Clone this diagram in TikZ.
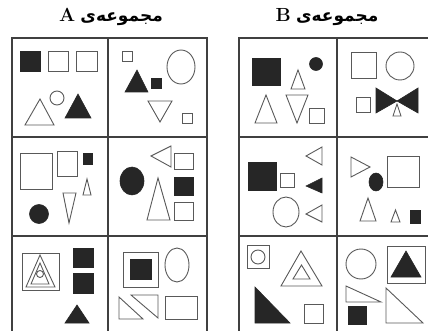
\documentclass[tikz,border=0pt]{standalone}
\usepackage{fontspec}
\newfontfamily\arabicfont[Script=Arabic]{DejaVu Sans Bold}
\TeXXeTstate=1
\newcommand{\setletter}[1]{{\fontsize{19}{21}\selectfont\bfseries #1}}
\begin{document}
\begin{tikzpicture}[x=1pt, y=-1pt, line join=miter,
    grid/.style={draw=black!75, line width=1.3pt},
    shp/.style={draw=black!65, line width=0.9pt},
    blk/.style={draw=black!85, fill=black!85, line width=0.6pt},
    title/.style={font=\fontsize{17}{19}\selectfont}]
  \useasboundingbox (0,0) rectangle (428,331);
  \clip (0,0) rectangle (428,331);
  % titles
  \node[title] (titleA) at (111,17) {\beginR{\arabicfont مجموعه‌ی} \setletter{A}\endR};
  \node[title] (titleB) at (327,17) {\beginR{\arabicfont مجموعه‌ی} \setletter{B}\endR};
  % grids
  \draw[grid] (12,38) rectangle (207,335);
  \draw[grid] (108,38) -- (108,335);
  \draw[grid] (12,137) -- (207,137) (12,236) -- (207,236);
  \draw[grid] (239,38) rectangle (436,335);
  \draw[grid] (337,38) -- (337,335);
  \draw[grid] (239,137) -- (436,137) (239,236) -- (436,236);

  % A, row 1, left
  \fill[blk] (20,51) rectangle (40,71);
  \draw[shp] (48,51) rectangle (68,71);
  \draw[shp] (76,51) rectangle (97,71);
  \draw[shp] (25,125) -- (40,99) -- (54,125) -- cycle;
  \draw[shp] (57,98) circle (7);
  \fill[blk] (65,118) -- (78,94) -- (91,118) -- cycle;
  % A, row 1, right
  \draw[shp] (122,51) rectangle (132,61);
  \draw[shp] (181,67) ellipse (14 and 17);
  \fill[blk] (125,92) -- (137,70) -- (148,92) -- cycle;
  \fill[blk] (151,78) rectangle (161,88);
  \draw[shp] (148,101) -- (172,101) -- (160,122) -- cycle;
  \draw[shp] (182,113) rectangle (192,123);

  % A, row 2, left
  \draw[shp] (20,153) rectangle (52,189);
  \draw[shp] (57,151) rectangle (77,176);
  \fill[blk] (83,153) rectangle (92,164);
  \draw[shp] (83,195) -- (87,179) -- (91,195) -- cycle;
  \draw[shp] (63,193) -- (76,193) -- (69,223) -- cycle;
  \fill[blk] (39,214) circle (9.5);
  % A, row 2, right
  \draw[shp] (151,156) -- (171,146) -- (171,167) -- cycle;
  \draw[shp] (174,153) rectangle (193,169);
  \fill[blk] (132,181) ellipse (12 and 14);
  \draw[shp] (147,220) -- (158,178) -- (170,220) -- cycle;
  \fill[blk] (174,177) rectangle (193,195);
  \draw[shp] (174,202) rectangle (193,220);

  % A, row 3, left
  \draw[shp] (22,253) rectangle (59,290);
  \draw[shp] (26,287) -- (40,255) -- (55,287) -- cycle;
  \draw[shp] (31,284) -- (40,263) -- (49,284) -- cycle;
  \draw[shp] (40,274) circle (3.5);
  \fill[blk] (73,248) rectangle (93,267);
  \fill[blk] (73,273) rectangle (93,293);
  \fill[blk] (65,323) -- (77,305) -- (89,323) -- cycle;
  % A, row 3, right
  \draw[shp] (123,252) rectangle (158,287);
  \fill[blk] (130,259) rectangle (151,279);
  \draw[shp] (177,265) ellipse (12 and 17);
  \draw[shp] (119,297) -- (119,319) -- (143,319) -- cycle;
  \draw[shp] (131,295) -- (158,295) -- (158,318) -- cycle;
  \draw[shp] (165,296) rectangle (197,319);

  % B, row 1, left
  \fill[blk] (252,58) rectangle (280,85);
  \draw[shp] (291,89) -- (298,70) -- (305,89) -- cycle;
  \fill[blk] (316,64) circle (6.5);
  \draw[shp] (255,123) -- (266,95) -- (277,123) -- cycle;
  \draw[shp] (286,95) -- (308,95) -- (297,123) -- cycle;
  \draw[shp] (309,108) rectangle (324,123);
  % B, row 1, right
  \draw[shp] (351,52) rectangle (376,78);
  \draw[shp] (400,66) circle (14);
  \draw[shp] (356,97) rectangle (370,112);
  \fill[blk] (376,88) -- (397,101) -- (376,113) -- cycle;
  \fill[blk] (418,88) -- (397,101) -- (418,113) -- cycle;
  \draw[shp, fill=white] (393,116) -- (397,104) -- (401,116) -- cycle;

  % B, row 2, left
  \draw[shp] (306,156) -- (322,147) -- (322,165) -- cycle;
  \fill[blk] (248,162) rectangle (276,190);
  \draw[shp] (280,173) rectangle (294,187);
  \fill[blk] (306,186) -- (322,178) -- (322,193) -- cycle;
  \draw[shp] (286,212) ellipse (13 and 15);
  \draw[shp] (306,214) -- (322,205) -- (322,222) -- cycle;
  % B, row 2, right
  \draw[shp] (351,157) -- (370,167) -- (351,177) -- cycle;
  \fill[blk] (376,182) ellipse (7 and 9);
  \draw[shp] (387,156) rectangle (419,187);
  \draw[shp] (360,221) -- (368,198) -- (376,221) -- cycle;
  \draw[shp] (391,222) -- (395.5,210) -- (400,222) -- cycle;
  \fill[blk] (410,210) rectangle (420,223);

  % B, row 3, left
  \draw[shp] (247,245) rectangle (269,268);
  \draw[shp] (258,257) circle (7);
  \draw[shp] (281,286) -- (301,251) -- (322,286) -- cycle;
  \draw[shp] (293,279) -- (301.5,265) -- (310,279) -- cycle;
  \fill[blk] (255,287) -- (255,323) -- (290,323) -- cycle;
  \draw[shp] (304,304) rectangle (323,323);
  % B, row 3, right
  \draw[shp] (361,264) circle (15);
  \draw[shp] (387,246) rectangle (425,283);
  \fill[blk] (391,277) -- (406,251) -- (421,277) -- cycle;
  \draw[shp] (346,286) -- (346,302) -- (381,302) -- cycle;
  \fill[blk] (348,306) rectangle (366,324);
  \draw[shp] (386,288) -- (386,323) -- (423,323) -- cycle;
\end{tikzpicture}
\end{document}
